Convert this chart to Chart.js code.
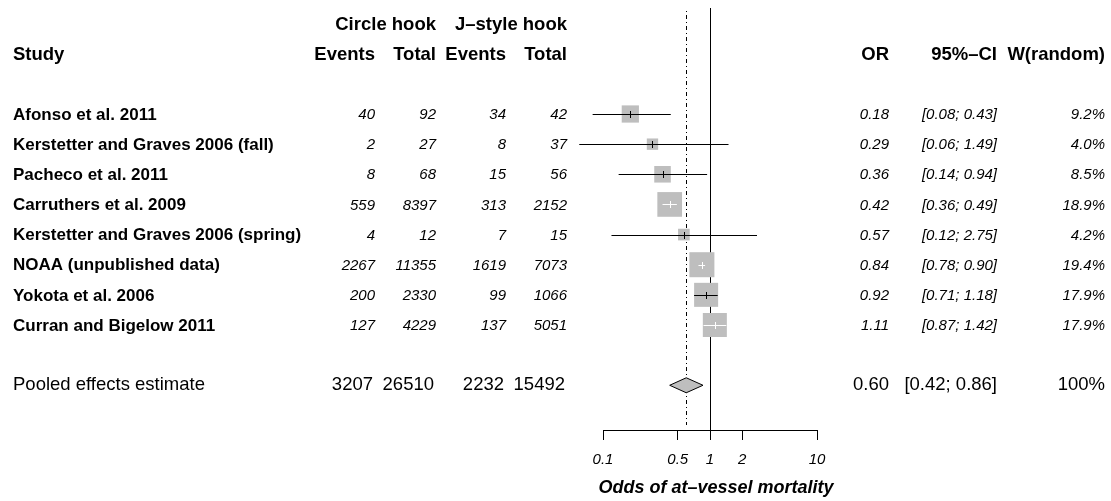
<!DOCTYPE html>
<html>
<head>
<meta charset="utf-8">
<script src="https://cdn.jsdelivr.net/npm/chart.js@4.4.1/dist/chart.umd.min.js"></script>
<style>
  html, body { margin: 0; padding: 0; background: #fff; }
  #forest { display: block; }
</style>
</head>
<body>
<canvas id="forest" width="1111" height="501"></canvas>
<script>
// Studiendaten
const studies = [
    'Afonso et al. 2011',
    'Kerstetter and Graves 2006 (fall)',
    'Pacheco et al. 2011',
    'Carruthers et al. 2009',
    'Kerstetter and Graves 2006 (spring)',
    'NOAA (unpublished data)',
    'Yokota et al. 2006',
    'Curran and Bigelow 2011'
];
const eventsCircle = [40, 2, 8, 559, 4, 2267, 200, 127];
const totalCircle = [92, 27, 68, 8397, 12, 11355, 2330, 4229];
const eventsJ = [34, 8, 15, 313, 7, 1619, 99, 137];
const totalJ = [42, 37, 56, 2152, 15, 7073, 1066, 5051];
const oddsRatio = [0.18, 0.29, 0.36, 0.42, 0.57, 0.84, 0.92, 1.11];
const ciLower = [0.08, 0.06, 0.14, 0.36, 0.12, 0.78, 0.71, 0.87];
const ciUpper = [0.43, 1.49, 0.94, 0.49, 2.75, 0.90, 1.18, 1.42];
const weightRandom = [9.2, 4.0, 8.5, 18.9, 4.2, 19.4, 17.9, 17.9];

// gepoolter Schaetzer
const pooledLabel = 'Pooled effects estimate';
const pooledTotals = [3207, 26510, 2232, 15492];
const pooledOR = 0.60;
const pooledLower = 0.42;
const pooledUpper = 0.86;
const pooledWeight = '100%';

const tickValues = [0.1, 0.5, 1, 2, 10];
const axisTitle = 'Odds of at\u2013vessel mortality';

const FONT = '"Liberation Sans", Arial, Helvetica, sans-serif';
const POOLED_ROW = studies.length + 1;
const boxSide = w => 5.68 * Math.sqrt(w);

// Spalten (rechtsbuendig)
const colX = { evC: 375, nC: 436, evJ: 506, nJ: 567, or: 889, ci: 997, w: 1105 };

function text(ctx, str, x, y, font, align) {
    ctx.font = font;
    ctx.textAlign = align;
    ctx.fillText(str, x, y);
}

const forestPlugin = {
    id: 'forest',
    beforeDatasetsDraw(chart) {
        const { ctx, chartArea, scales: { x } } = chart;
        ctx.save();
        ctx.strokeStyle = '#000';
        ctx.lineWidth = 1;
        const x1 = Math.round(x.getPixelForValue(1)) + 0.5;
        ctx.beginPath();
        ctx.moveTo(x1, chartArea.top);
        ctx.lineTo(x1, chartArea.bottom);
        ctx.stroke();
        const xp = Math.round(x.getPixelForValue(pooledOR)) + 0.5;
        ctx.setLineDash([1, 3, 4, 3]);
        ctx.beginPath();
        ctx.moveTo(xp, chartArea.top + 3);
        ctx.lineTo(xp, chartArea.bottom - 5);
        ctx.stroke();
        ctx.restore();
    },
    afterDatasetsDraw(chart) {
        const { ctx, scales: { x, y } } = chart;
        ctx.save();
        ctx.lineWidth = 1;
        studies.forEach((s, i) => {
            const cy = Math.round(y.getPixelForValue(i)) + 0.5;
            const cx = x.getPixelForValue(oddsRatio[i]);
            const lo = x.getPixelForValue(ciLower[i]);
            const hi = x.getPixelForValue(ciUpper[i]);
            const half = boxSide(weightRandom[i]) / 2;
            // weiss, wenn das KI komplett im Kasten liegt
            const inside = lo > cx - half + 0.3 && hi < cx + half - 0.3;
            ctx.strokeStyle = inside ? '#fff' : '#000';
            ctx.beginPath();
            ctx.moveTo(lo, cy);
            ctx.lineTo(hi, cy);
            ctx.moveTo(Math.round(cx) + 0.5, cy - 3.5);
            ctx.lineTo(Math.round(cx) + 0.5, cy + 3.5);
            ctx.stroke();
        });
        // Raute
        const py = y.getPixelForValue(POOLED_ROW);
        ctx.beginPath();
        ctx.moveTo(x.getPixelForValue(pooledLower), py);
        ctx.lineTo(x.getPixelForValue(pooledOR), py - 7.5);
        ctx.lineTo(x.getPixelForValue(pooledUpper), py);
        ctx.lineTo(x.getPixelForValue(pooledOR), py + 7.5);
        ctx.closePath();
        ctx.fillStyle = '#bebebe';
        ctx.fill();
        ctx.strokeStyle = '#000';
        ctx.stroke();
        ctx.restore();
    },
    afterDraw(chart) {
        const { ctx, scales: { y } } = chart;
        const head = 'bold 18.5px ' + FONT;
        const bold = 'bold 17px ' + FONT;
        const ital = 'italic 15px ' + FONT;
        const reg = '18.5px ' + FONT;
        ctx.save();
        ctx.fillStyle = '#000';
        ctx.textBaseline = 'middle';

        // Kopfzeilen
        const h1 = y.getPixelForValue(-3) + 1;
        const h2 = y.getPixelForValue(-2) + 1;
        text(ctx, 'Circle hook', colX.nC, h1, head, 'right');
        text(ctx, 'J\u2013style hook', colX.nJ, h1, head, 'right');
        text(ctx, 'Study', 13, h2, head, 'left');
        text(ctx, 'Events', colX.evC, h2, head, 'right');
        text(ctx, 'Total', colX.nC, h2, head, 'right');
        text(ctx, 'Events', colX.evJ, h2, head, 'right');
        text(ctx, 'Total', colX.nJ, h2, head, 'right');
        text(ctx, 'OR', colX.or, h2, head, 'right');
        text(ctx, '95%\u2013CI', colX.ci, h2, head, 'right');
        text(ctx, 'W(random)', colX.w, h2, head, 'right');

        // Studienzeilen
        studies.forEach((s, i) => {
            const ry = y.getPixelForValue(i) + 1;
            text(ctx, s, 13, ry, bold, 'left');
            text(ctx, String(eventsCircle[i]), colX.evC, ry, ital, 'right');
            text(ctx, String(totalCircle[i]), colX.nC, ry, ital, 'right');
            text(ctx, String(eventsJ[i]), colX.evJ, ry, ital, 'right');
            text(ctx, String(totalJ[i]), colX.nJ, ry, ital, 'right');
            text(ctx, oddsRatio[i].toFixed(2), colX.or, ry, ital, 'right');
            text(ctx, '[' + ciLower[i].toFixed(2) + '; ' + ciUpper[i].toFixed(2) + ']', colX.ci, ry, ital, 'right');
            text(ctx, weightRandom[i].toFixed(1) + '%', colX.w, ry, ital, 'right');
        });

        // gepoolte Zeile
        const py = y.getPixelForValue(POOLED_ROW);
        text(ctx, pooledLabel, 13, py, reg, 'left');
        text(ctx, String(pooledTotals[0]), colX.evC - 2, py, reg, 'right');
        text(ctx, String(pooledTotals[1]), colX.nC - 2, py, reg, 'right');
        text(ctx, String(pooledTotals[2]), colX.evJ - 2, py, reg, 'right');
        text(ctx, String(pooledTotals[3]), colX.nJ - 2, py, reg, 'right');
        text(ctx, pooledOR.toFixed(2), colX.or, py, reg, 'right');
        text(ctx, '[' + pooledLower.toFixed(2) + '; ' + pooledUpper.toFixed(2) + ']', colX.ci, py, reg, 'right');
        text(ctx, pooledWeight, colX.w, py, reg, 'right');

        // Achsentitel (ohne maxWidth-Stauchung)
        text(ctx, axisTitle, 716, 488, 'italic bold 18px ' + FONT, 'center');
        ctx.restore();
    }
};

const ctx = document.getElementById('forest').getContext('2d');
new Chart(ctx, {
    type: 'scatter',
    data: {
        datasets: [{
            data: studies.map((s, i) => ({ x: oddsRatio[i], y: i })),
            pointStyle: 'rect',
            pointRadius: weightRandom.map(w => boxSide(w) / Math.SQRT2),
            backgroundColor: '#bebebe',
            borderWidth: 0,
            clip: false
        }]
    },
    options: {
        responsive: false,
        animation: false,
        devicePixelRatio: 1,
        layout: { autoPadding: false, padding: { left: 603, right: 294, top: 8, bottom: 0 } },
        plugins: { legend: { display: false }, tooltip: { enabled: false } },
        scales: {
            x: {
                type: 'logarithmic',
                min: 0.1,
                max: 10,
                afterBuildTicks: scale => { scale.ticks = tickValues.map(v => ({ value: v })); },
                afterFit: scale => { scale.height = 71; },
                ticks: {
                    autoSkip: false,
                    maxRotation: 0,
                    padding: 11,
                    color: '#000',
                    font: { family: FONT, size: 15, style: 'italic' },
                    callback: v => String(v)
                },
                grid: { drawOnChartArea: false, drawTicks: true, tickLength: 10, color: '#000' },
                border: { display: true, color: '#000', width: 1 },
                title: { display: false }
            },
            y: {
                type: 'linear',
                min: -3.517,
                max: 10.484,
                reverse: true,
                display: false
            }
        }
    },
    plugins: [forestPlugin]
});
</script>
</body>
</html>
